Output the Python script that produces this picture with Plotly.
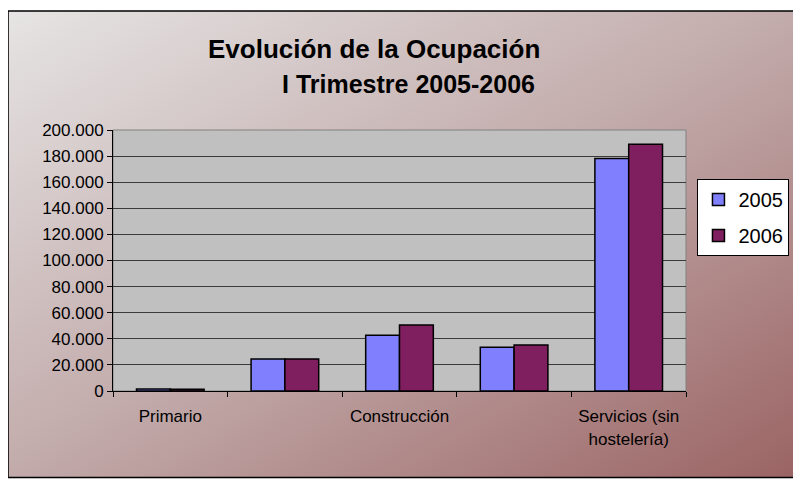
import base64
import plotly.graph_objects as go

categorias = ['Primario', 'Industria', 'Construcción', 'Hostelería', 'Servicios (sin hostelería)']
etiquetas = ['Primario', '', 'Construcción', '', 'Servicios (sin<br>hostelería)']
ocup_2005 = [1500, 24500, 42800, 33600, 178200]
ocup_2006 = [1400, 24600, 50500, 35200, 189000]
y_ticks = [0, 20000, 40000, 60000, 80000, 100000, 120000, 140000, 160000, 180000, 200000]

FONT = 'Arial, Liberation Sans, sans-serif'

# degradado del fondo (como el de Excel)
svg = ('<svg xmlns="http://www.w3.org/2000/svg" width="800" height="470" preserveAspectRatio="none">'
       '<defs><linearGradient id="g" x1="0" y1="0" x2="1" y2="1">'
       '<stop offset="0" stop-color="#e6e4e4"/>'
       '<stop offset="0.5" stop-color="#c2aaaa"/>'
       '<stop offset="1" stop-color="#9a6262"/>'
       '</linearGradient></defs>'
       '<rect width="800" height="470" fill="url(#g)"/></svg>')
fondo = 'data:image/svg+xml;base64,' + base64.b64encode(svg.encode()).decode()

fig = go.Figure()
fig.add_trace(go.Bar(x=categorias, y=ocup_2005, name='2005', legendgroup='a',
                     marker=dict(color='#8080ff', line=dict(color='black', width=1.5))))
fig.add_trace(go.Bar(x=categorias, y=ocup_2006, name='2006', legendgroup='b',
                     marker=dict(color='#801f5f', line=dict(color='black', width=1.5))))

# la página tiene 8px de margen arriba/izquierda
fig.update_layout(
    width=801, height=471,
    margin=dict(l=105, r=123, t=122, b=88),
    paper_bgcolor='white',
    plot_bgcolor='rgba(0,0,0,0)',
    bargap=0.41, bargroupgap=0,
    font=dict(family=FONT, color='black'),
    showlegend=True,
    legend=dict(x=1.02, y=0.812, xanchor='left', yanchor='top',
                bgcolor='white', bordercolor='black', borderwidth=1,
                font=dict(size=20, family=FONT), tracegroupgap=7),
    images=[dict(source=fondo, xref='paper', yref='paper',
                 x=-0.1832, y=1.456, sizex=1.40, sizey=1.79,
                 sizing='stretch', layer='below')],
    shapes=[
        dict(type='rect', xref='paper', yref='paper', x0=0, x1=1, y0=0, y1=1,
             fillcolor='#c0c0c0', line=dict(color='#808080', width=1), layer='below'),
        dict(type='rect', xref='paper', yref='paper', x0=-0.1832, x1=1.23, y0=-0.331, y1=1.456,
             line=dict(color='black', width=1.5), fillcolor='rgba(0,0,0,0)', layer='above'),
    ],
    annotations=[
        dict(text='<b>Evolución de la Ocupación</b>', xref='paper', yref='paper',
             x=0.456, y=1.31, xanchor='center', yanchor='middle', showarrow=False,
             font=dict(size=26, family=FONT)),
        dict(text='<b>I Trimestre 2005-2006</b>', xref='paper', yref='paper',
             x=0.516, y=1.178, xanchor='center', yanchor='middle', showarrow=False,
             font=dict(size=25, family=FONT)),
    ],
)

fig.update_xaxes(
    type='category', categoryorder='array', categoryarray=categorias,
    tickmode='array', tickvals=categorias, ticktext=etiquetas, tickson='boundaries',
    ticks='outside', ticklen=5, tickcolor='black', showgrid=False, tickangle=0,
    showline=True, linecolor='black', linewidth=1, ticklabelstandoff=10,
    tickfont=dict(size=17, family=FONT), fixedrange=True, automargin=False,
)
fig.update_yaxes(
    range=[0, 200000], tickvals=y_ticks, tickformat=',.0f',
    ticks='outside', ticklen=5, tickcolor='black',
    showgrid=True, gridcolor='#3a3a3a', gridwidth=1,
    showline=True, linecolor='black', linewidth=1, zeroline=False,
    tickfont=dict(size=17, family=FONT), fixedrange=True, automargin=False,
)
fig.update_layout(separators=',.')

fig.write_html('out.html', config=dict(displayModeBar=False))
